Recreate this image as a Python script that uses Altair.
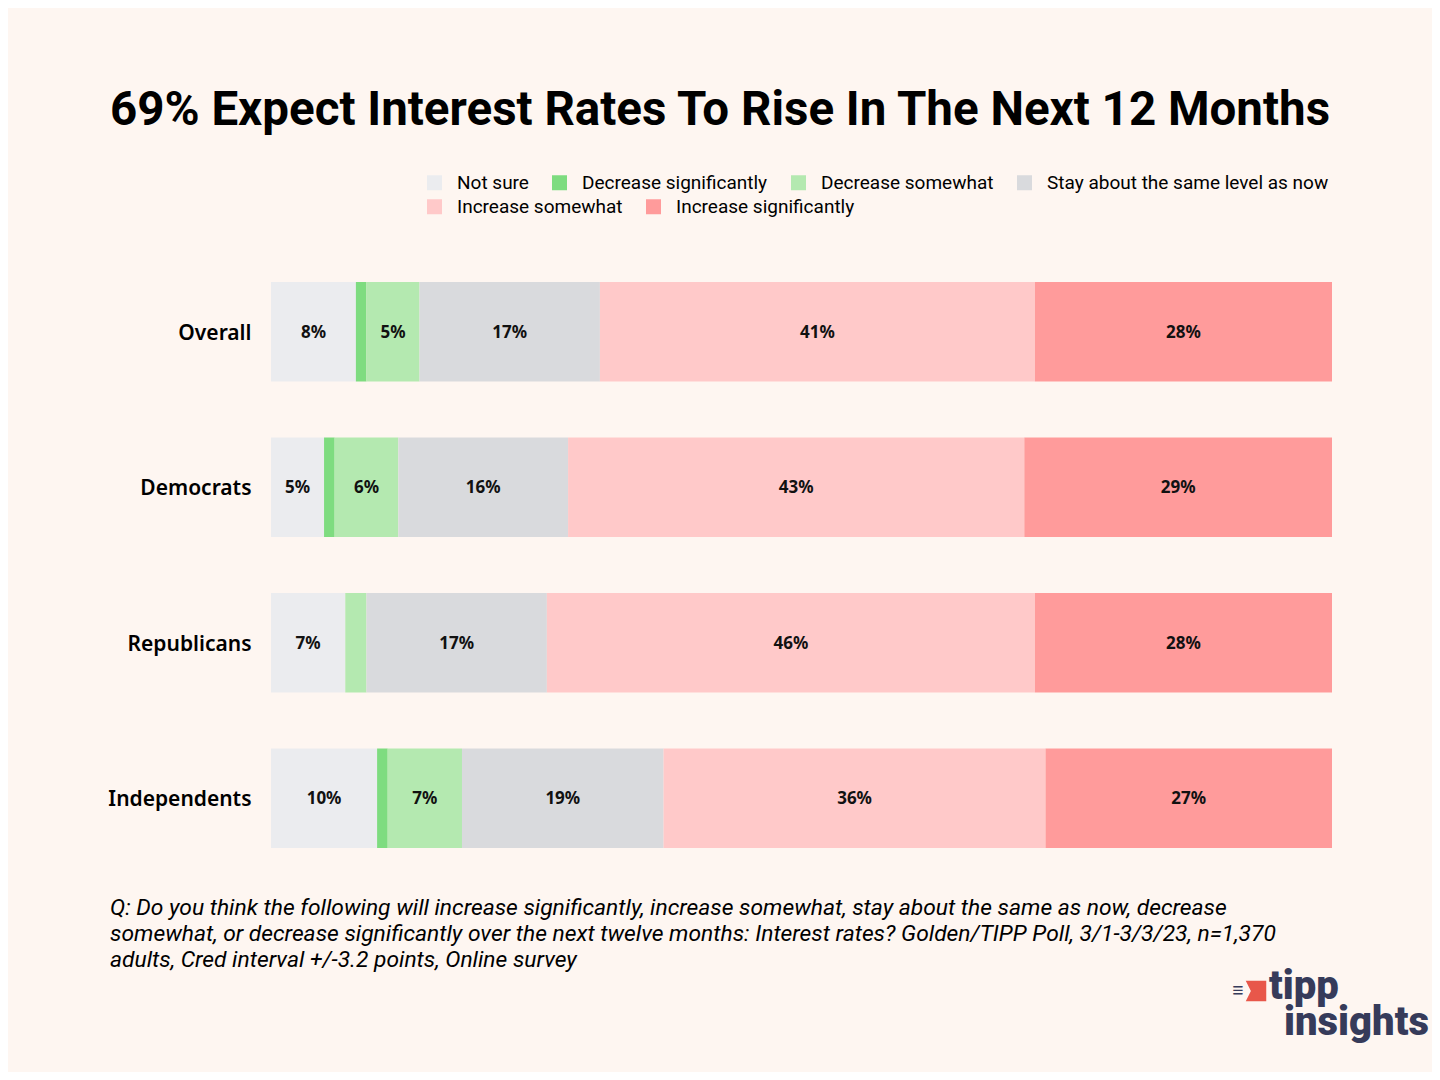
import altair as alt
import pandas as pd

groups = ["Overall", "Democrats", "Republicans", "Independents"]
categories = ["Not sure", "Decrease significantly", "Decrease somewhat",
              "Stay about the same level as now", "Increase somewhat", "Increase significantly"]
colors = ["#EBECEF", "#7EDC80", "#B4E9B0", "#D9DADD", "#FFC9C9", "#FF9B9B"]

not_sure = [8, 5, 7, 10]
decrease_sig = [1, 1, 0, 1]
decrease_some = [5, 6, 2, 7]
stay_same = [17, 16, 17, 19]
increase_some = [41, 43, 46, 36]
increase_sig = [28, 29, 28, 27]

title = "69% Expect Interest Rates To Rise In The Next 12 Months"
footnote = [
    "Q:  Do you think the following will increase significantly, increase somewhat, stay about the same as now, decrease",
    "somewhat, or decrease significantly over the next twelve months: Interest rates? Golden/TIPP Poll, 3/1-3/3/23, n=1,370",
    "adults, Cred interval +/-3.2 points, Online survey",
]
logo_top = "tipp"
logo_bottom = "insights"

series = [not_sure, decrease_sig, decrease_some, stay_same, increase_some, increase_sig]
rows = []
for ci, (cat, vals) in enumerate(zip(categories, series)):
    for g, v in zip(groups, vals):
        rows.append({"group": g, "category": cat, "order": ci, "value": v})
df = pd.DataFrame(rows)

BG = "#FEF6F1"
FONT = "Roboto"
LABEL_FONT = "Noto Sans"

base = alt.Chart(df).transform_window(
    cum="sum(value)", sort=[{"field": "order"}], groupby=["group"]
).transform_calculate(
    start="datum.cum - datum.value",
    mid="datum.cum - datum.value / 2",
    label="datum.value + '%'",
)

yenc = alt.Y("group:N", sort=groups, title=None,
             scale=alt.Scale(paddingInner=0.36, paddingOuter=0.18),
             axis=alt.Axis(ticks=False, domain=False, labelFontSize=21,
                           labelFontWeight=600, labelColor="#000000",
                           labelFont=LABEL_FONT, labelPadding=20, labelOffset=2))
xenc = alt.X("start:Q", scale=alt.Scale(domain=[0, 100], nice=False, zero=True), axis=None)


def legend_for(ly):
    return alt.Legend(title=None, orient="none", legendX=154, legendY=ly,
                      direction="horizontal", symbolType="square", symbolSize=225,
                      symbolStrokeWidth=0, labelFont=FONT, labelFontSize=19,
                      labelColor="#000000", labelOffset=13, columnPadding=21,
                      labelLimit=400)


first = categories[:4]
second = categories[4:]

bars1 = base.transform_filter(alt.FieldOneOfPredicate(field="category", oneOf=first)).mark_bar().encode(
    x=xenc, x2="cum:Q", y=yenc,
    color=alt.Color("category:N", sort=first,
                    scale=alt.Scale(domain=first, range=colors[:4]),
                    legend=legend_for(-81)),
)
bars2 = base.transform_filter(alt.FieldOneOfPredicate(field="category", oneOf=second)).mark_bar().encode(
    x=xenc, x2="cum:Q", y=yenc,
    color=alt.Color("category:N", sort=second,
                    scale=alt.Scale(domain=second, range=colors[4:]),
                    legend=legend_for(-57)),
)

texts = base.transform_filter("datum.value >= 3").mark_text(
    font=LABEL_FONT, fontSize=17, fontWeight="bold", color="#111111", dy=1
).encode(
    x=alt.X("mid:Q"),
    y=alt.Y("group:N", sort=groups),
    text="label:N",
)

title_layer = alt.Chart(pd.DataFrame({"t": [title]})).mark_text(
    font=FONT, fontSize=47.5, fontWeight="bold", color="#000000", align="center", baseline="alphabetic"
).encode(text="t:N", x=alt.value(449), y=alt.value(-129))

foot_layer = alt.Chart(pd.DataFrame({"t": [footnote]})).mark_text(
    font=FONT, fontSize=22.8, fontStyle="italic", color="#000000", align="left",
    baseline="alphabetic", lineHeight=26
).encode(text="t", x=alt.value(-161), y=alt.value(661))

logo1 = alt.Chart(pd.DataFrame({"t": [logo_top]})).mark_text(
    font=FONT, fontSize=40, fontWeight=900, color="#363B5A", align="left", baseline="alphabetic"
).encode(text="t:N", x=alt.value(998), y=alt.value(745))
logo2 = alt.Chart(pd.DataFrame({"t": [logo_bottom]})).mark_text(
    font=FONT, fontSize=40, fontWeight=900, color="#363B5A", align="left", baseline="alphabetic"
).encode(text="t:N", x=alt.value(1013), y=alt.value(781))
icon = alt.Chart(pd.DataFrame({"t": [logo_top]})).mark_point(
    shape="M-1,-1 L1,-1 L1,1 L-1,1 L-0.5,0 Z", filled=True, color="#E8574A", opacity=1, size=420
).encode(x=alt.value(985), y=alt.value(737))
icon_lines = alt.Chart(pd.DataFrame({"t": [logo_top]})).mark_text(
    text="≡", font=FONT, fontSize=20, fontWeight="bold", color="#363B5A", align="center", baseline="middle"
).encode(x=alt.value(967), y=alt.value(737))

chart = alt.layer(bars1, bars2, texts, title_layer, foot_layer, logo1, logo2, icon, icon_lines).resolve_scale(
    color="independent"
).properties(
    width=1061, height=622,
    autosize=alt.AutoSizeParams(type="none"),
    padding={"left": 263, "top": 246, "right": 100, "bottom": 196},
    background=BG,
).configure_view(stroke=None)

chart.save("out.html", embed_options={"renderer": "svg", "actions": False})
